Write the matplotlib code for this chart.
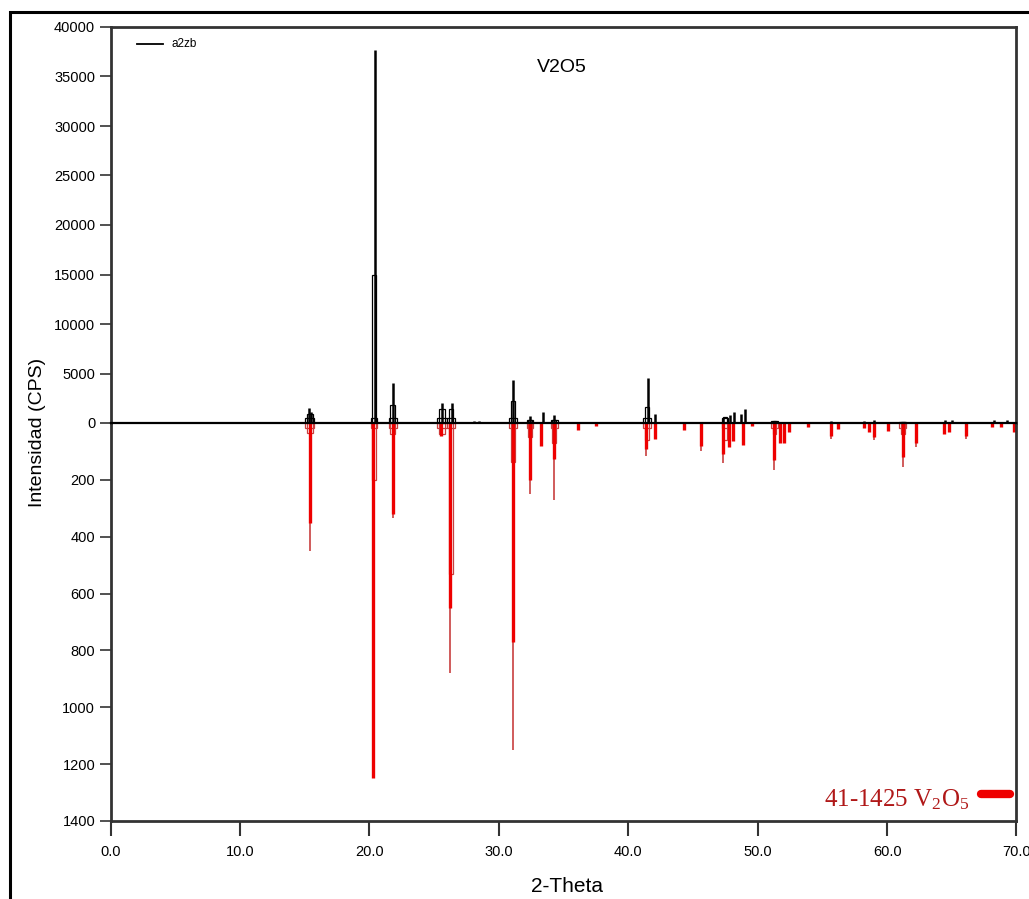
import matplotlib
matplotlib.use("Agg")
import matplotlib.pyplot as plt
from matplotlib.patches import Rectangle
from matplotlib.lines import Line2D

plt.rcParams['font.family'] = ['Liberation Sans', 'DejaVu Sans']
plt.rcParams['mathtext.fontset'] = 'custom'
plt.rcParams['mathtext.rm'] = 'Liberation Serif'
plt.rcParams['mathtext.it'] = 'Liberation Serif:italic'

# measured pattern (a2zb), 2-theta / CPS
obs_pos = [15.3, 15.5, 20.4, 21.8, 25.6, 26.4, 28.1, 28.5, 31.1, 32.4, 33.4, 34.3,
           37.6, 40.4, 41.5, 42.1, 47.3, 47.9, 48.2, 48.7, 49.0, 51.4, 55.7,
           58.2, 59.0, 64.5, 65.0, 68.3, 69.3]
obs_int = [1500, 1100, 37700, 4000, 2000, 2000, 250, 250, 4300, 700, 1100, 800,
           150, 150, 4500, 900, 500, 800, 1100, 900, 1400, 200, 200,
           250, 300, 350, 350, 300, 300]

# reference card 41-1425 V2O5 (drawn downwards)
ref_pos = [15.4, 20.3, 21.8, 25.5, 26.2, 31.1, 32.4, 33.3, 34.3, 36.1, 37.5,
           41.4, 42.1, 44.3, 45.6, 47.3, 47.8, 48.1, 48.9, 49.6, 51.3, 51.7,
           52.0, 52.4, 53.9, 55.7, 56.2, 58.2, 58.6, 59.0, 60.1, 61.2, 62.2,
           64.4, 64.8, 66.1, 68.1, 68.8, 69.8]
ref_int = [450, 1250, 335, 45, 880, 1150, 250, 80, 270, 25, 12,
           115, 55, 25, 100, 140, 85, 65, 78, 12, 165, 70,
           70, 32, 14, 56, 20, 18, 32, 60, 28, 155, 85,
           40, 30, 56, 14, 15, 30]
ref_core = [350, 1250, 320, 45, 650, 770, 200, 80, 125, 25, 12,
            90, 55, 25, 80, 110, 85, 65, 78, 12, 130, 70,
            70, 32, 14, 45, 20, 18, 32, 50, 28, 120, 70,
            40, 30, 45, 14, 15, 30]

# peak outlines (profile envelopes)
env_pos = [15.4, 20.35, 21.8, 25.6, 26.3, 31.1, 32.4, 34.3, 41.45, 47.5, 51.3, 61.2]
env_up = [900, 15000, 1800, 1400, 1400, 2200, 300, 300, 1600, 600, 200, 150]
env_down = [35, 200, 40, 40, 530, 137, 50, 70, 60, 60, 40, 40]
env_w = [0.45, 0.3, 0.4, 0.5, 0.35, 0.35, 0.3, 0.3, 0.35, 0.3, 0.3, 0.3]

fig = plt.figure(figsize=(10.29, 8.99), dpi=100)
L, W = 110.5 / 1029, 906 / 1029
axb = fig.add_axes([L, 1 - 821 / 899, W, 398 / 899])
ax = fig.add_axes([L, 1 - 423 / 899, W, 396 / 899], sharex=axb)
ax.patch.set_visible(False)

ref_red = '#ee0000'
ref_dark = '#c84040'

# upper: measured pattern
ax.vlines(obs_pos, 0, obs_int, color='black', lw=1.8)
for p, u, d, w in zip(env_pos, env_up, env_down, env_w):
    ax.add_patch(Rectangle((p - w / 2, 0), w, u, fill=False, ec='black', lw=0.9))
    ax.add_patch(Rectangle((p - 0.8 * w, 0), 1.6 * w, min(u, 500), fill=False, ec='black', lw=0.9))
    axb.add_patch(Rectangle((p - w / 2, 0), w, d, fill=False, ec=ref_dark, lw=0.9))
    axb.add_patch(Rectangle((p - 0.8 * w, 0), 1.6 * w, min(d, 18), fill=False, ec=ref_dark, lw=0.9))

# lower: reference card
axb.vlines(ref_pos, 0, ref_int, color=ref_dark, lw=1.2)
axb.vlines(ref_pos, 0, ref_core, color=ref_red, lw=2.4)

ax.set_xlim(0, 70)
ax.set_ylim(0, 40000)
axb.set_ylim(1400, 0)

spine_c = '#333333'
ax.set_yticks(range(0, 40001, 5000))
ax.set_yticklabels([str(v) for v in range(0, 40001, 5000)])
ax.tick_params(axis='y', direction='out', length=8, width=1.2, color=spine_c,
               labelsize=10.5, pad=3)
ax.tick_params(axis='x', bottom=False, labelbottom=False)
for s in ['top', 'left', 'right']:
    ax.spines[s].set_color(spine_c)
    ax.spines[s].set_linewidth(2)
ax.spines['bottom'].set_color('black')
ax.spines['bottom'].set_linewidth(1.6)
ax.spines['bottom'].set_zorder(5)

axb.set_yticks(range(200, 1401, 200))
axb.set_yticklabels([str(v) for v in range(200, 1401, 200)])
axb.set_xticks(range(0, 71, 10))
axb.set_xticklabels([f"{v:.1f}" for v in range(0, 71, 10)])
axb.tick_params(axis='y', direction='out', length=8, width=1.2, color=spine_c,
                labelsize=10.5, pad=3)
axb.tick_params(axis='x', direction='out', length=11, width=1.5, color=spine_c,
                labelsize=10.5, pad=6)
axb.spines['top'].set_visible(False)
for s in ['bottom', 'left', 'right']:
    axb.spines[s].set_color(spine_c)
    axb.spines[s].set_linewidth(2)

# legend entry and labels
fig.add_artist(Line2D([137 / 1029, 163 / 1029], [1 - 44 / 899] * 2, transform=fig.transFigure,
                      color='black', lw=1.3))
fig.text(171 / 1029, 1 - 44 / 899, 'a2zb', fontsize=8.5, va='center', ha='left')
fig.text(562 / 1029, 1 - 68 / 899, 'V2O5', fontsize=14, va='center', ha='center')

fig.text(38 / 1029, 1 - 432 / 899, 'Intensidad (CPS)', fontsize=14, rotation=90,
         va='center', ha='center')
fig.text(567 / 1029, 1 - 886 / 899, '2-Theta', fontsize=15, va='center', ha='center')

fig.text(970 / 1029, 1 - 806 / 899, r'41-1425 V$_{2}$O$_{5}$', fontsize=18, color='#b01818',
         family='Liberation Serif', ha='right', va='baseline')
fig.add_artist(Line2D([981 / 1029, 1010 / 1029], [1 - 794 / 899] * 2, transform=fig.transFigure,
                      color='#ee0000', lw=6, solid_capstyle='round'))

# outer frame of the pasted figure
fig.add_artist(Rectangle((10 / 1029, -0.05), 1.1, 1 - 12 / 899 + 0.05, transform=fig.transFigure,
                         fill=False, ec='black', lw=2.2))

fig.savefig('out.png', dpi=100)
